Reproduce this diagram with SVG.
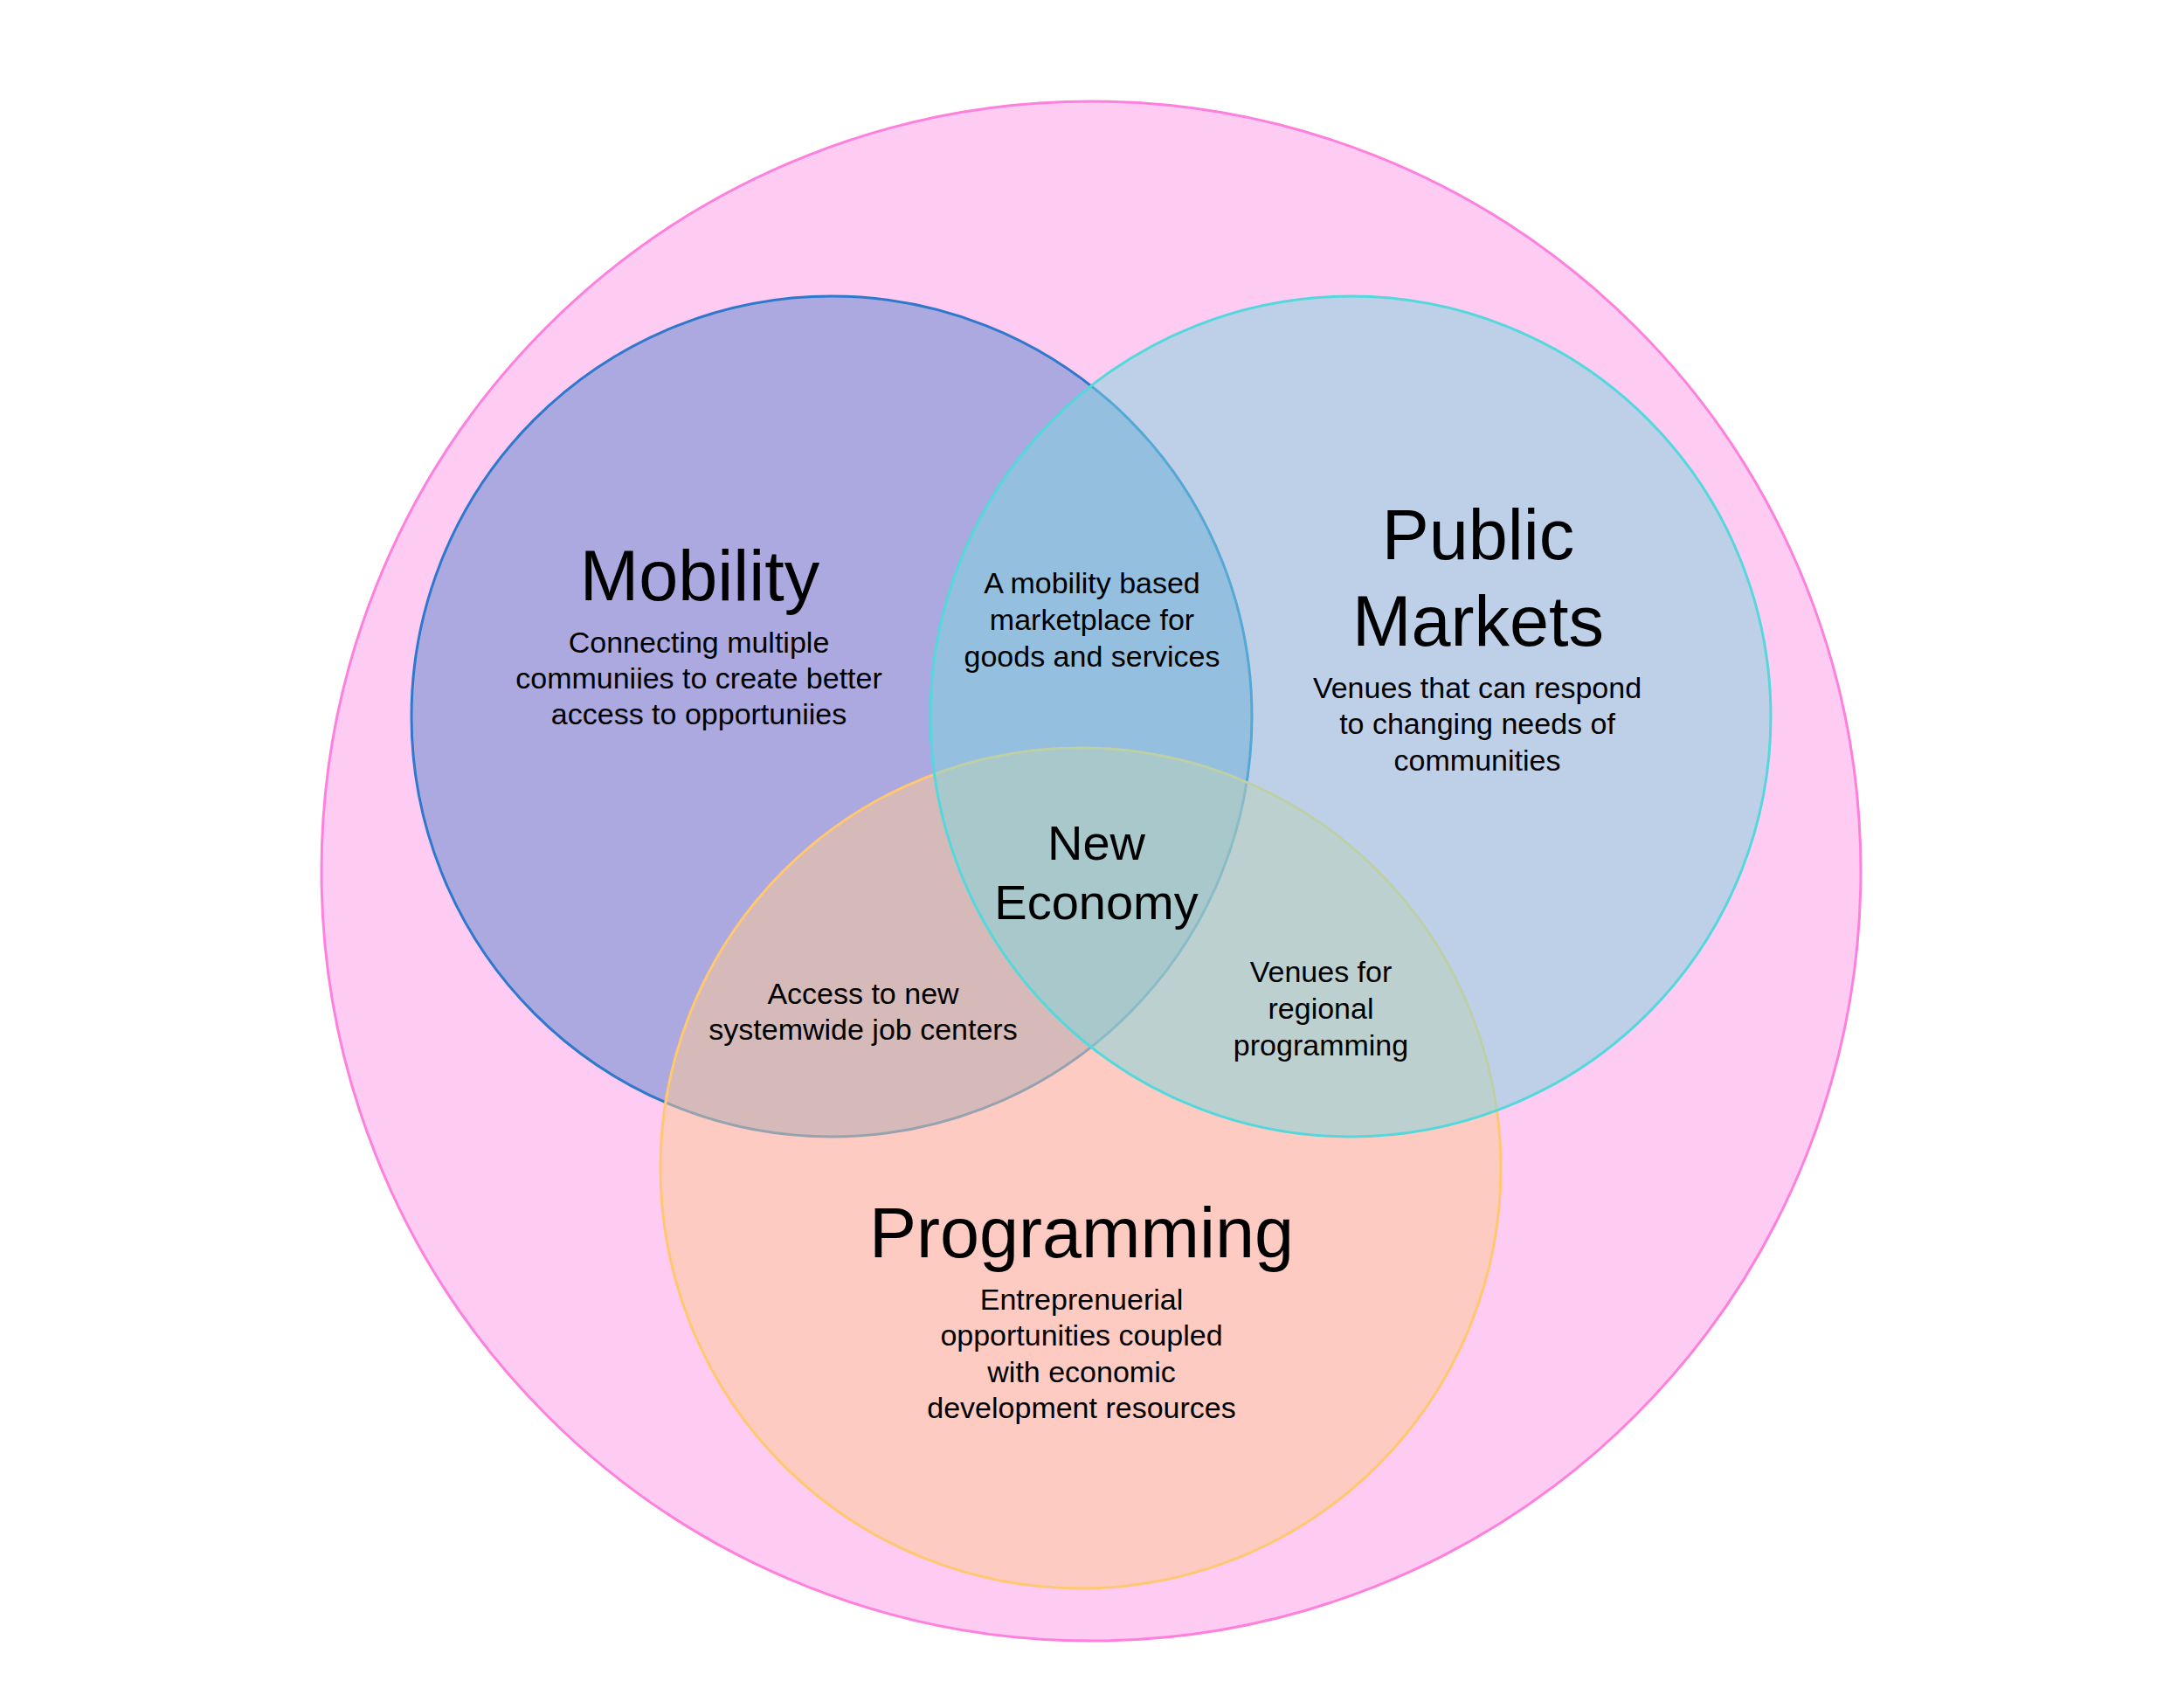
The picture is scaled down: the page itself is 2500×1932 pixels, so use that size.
<svg xmlns="http://www.w3.org/2000/svg" width="2500" height="1932" viewBox="0 0 2500 1932">
<style>
.t{font-family:"Liberation Sans",Arial,sans-serif;fill:#000;text-anchor:middle}
.title{font-size:81px}
.sub{font-size:34px}
.mid{font-size:56px}
.c{stroke-width:3}
</style>
<rect width="2500" height="1932" fill="#ffffff"/>
<g id="outer">
<circle cx="1249" cy="997" r="881" fill="#fecbf2" stroke="#ff80dc" stroke-width="3"/>
</g>
<g id="mobility">
<circle class="c" cx="952" cy="820" r="481" fill="rgba(90,135,206,0.5)" stroke="#2f78cc"/>
<text class="t title" x="801" y="687">Mobility</text>
<text class="t sub" x="800"><tspan x="800" y="747">Connecting multiple</tspan><tspan x="800" y="788">communiies to create better</tspan><tspan x="800" y="829">access to opportuniies</tspan></text>
</g>
<g id="programming">
<circle class="c" cx="1237" cy="1337" r="481" fill="rgba(254,203,146,0.5)" stroke="#ffc870"/>
<text class="t title" x="1238" y="1439">Programming</text>
<text class="t sub"><tspan x="1238" y="1499">Entreprenuerial</tspan><tspan x="1238" y="1540">opportunities coupled</tspan><tspan x="1238" y="1582">with economic</tspan><tspan x="1238" y="1623">development resources</tspan></text>
</g>
<g id="public-markets">
<circle class="c" cx="1546" cy="820" r="481" fill="rgba(124,213,222,0.5)" stroke="#55d8dc"/>
<text class="t title"><tspan x="1692" y="640">Public</tspan><tspan x="1692" y="739">Markets</tspan></text>
<text class="t sub"><tspan x="1691" y="799">Venues that can respond</tspan><tspan x="1691" y="840">to changing needs of</tspan><tspan x="1691" y="882">communities</tspan></text>
</g>
<g id="mobility-markets">
<text class="t sub"><tspan x="1250" y="679">A mobility based</tspan><tspan x="1250" y="721">marketplace for</tspan><tspan x="1250" y="763">goods and services</tspan></text>
</g>
<g id="mobility-programming">
<text class="t sub"><tspan x="988" y="1149">Access to new</tspan><tspan x="988" y="1190">systemwide job centers</tspan></text>
</g>
<g id="markets-programming">
<text class="t sub"><tspan x="1512" y="1124">Venues for</tspan><tspan x="1512" y="1166">regional</tspan><tspan x="1512" y="1208">programming</tspan></text>
</g>
<g id="new-economy">
<text class="t mid"><tspan x="1255" y="984">New</tspan><tspan x="1255" y="1052">Economy</tspan></text>
</g>
</svg>
